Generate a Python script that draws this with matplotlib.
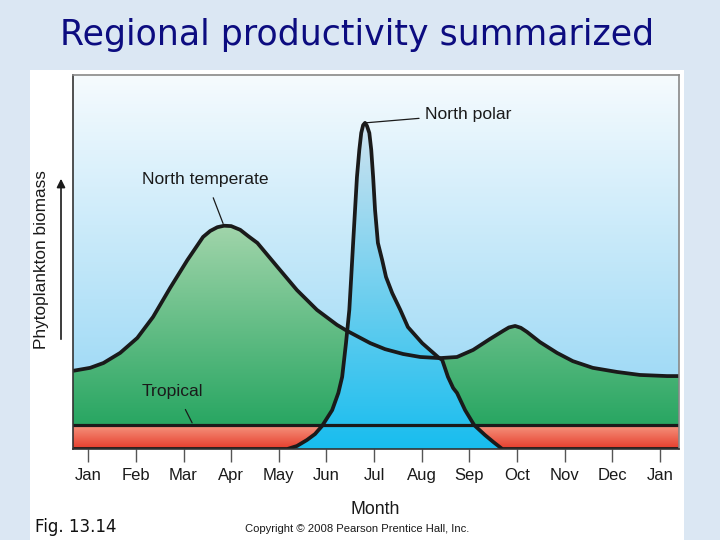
import numpy as np
import matplotlib
matplotlib.use("Agg")
import matplotlib.pyplot as plt
from matplotlib.patches import Rectangle
from matplotlib.path import Path

# ---------------- data (month index: Jan=0 ... next Jan=12; biomass in arbitrary units) -------------
month_labels = ["Jan", "Feb", "Mar", "Apr", "May", "Jun", "Jul",
                "Aug", "Sep", "Oct", "Nov", "Dec", "Jan"]

temperate_month = [-0.32, 0.04, 0.32, 0.67, 1.03, 1.36, 1.72, 2.08, 2.41, 2.56, 2.71,
                   2.85, 3.00, 3.19, 3.36, 3.55, 3.97, 4.38, 4.80, 5.22, 5.43, 5.92,
                   6.23, 6.61, 6.97, 7.38, 7.74, 8.08, 8.43, 8.71, 8.83, 8.96, 9.08,
                   9.21, 9.48, 9.84, 10.17, 10.59, 11.10, 11.58, 12.15, 12.40]
temperate_biomass = [20.9, 21.7, 23.0, 25.7, 29.7, 35.3, 43.1, 50.5, 56.7, 58.3, 59.3,
                     59.7, 59.6, 58.6, 56.9, 55.1, 48.7, 42.5, 37.2, 33.2, 31.6, 28.3,
                     26.7, 25.4, 24.6, 24.3, 24.6, 26.5, 29.4, 31.6, 32.5, 32.9, 32.4,
                     31.3, 28.6, 25.7, 23.5, 21.7, 20.6, 19.8, 19.5, 19.5]

polar_month = [-0.32, 4.18, 4.38, 4.59, 4.76, 4.91, 5.12, 5.25, 5.33, 5.41, 5.48, 5.52,
               5.56, 5.60, 5.64, 5.69, 5.73, 5.77, 5.81, 5.85, 5.90, 5.94, 5.98, 6.02,
               6.08, 6.17, 6.25, 6.38, 6.55, 6.71, 7.01, 7.34, 7.43, 7.55, 7.66, 7.74,
               7.91, 8.10, 8.33, 8.50, 8.69, 12.40]
polar_biomass = [0.0, 0.0, 0.8, 2.4, 4.0, 6.2, 10.4, 15.0, 19.3, 28.3, 37.2, 46.0,
                 55.1, 63.9, 72.7, 80.0, 84.5, 86.6, 87.2, 86.4, 84.5, 80.0, 72.7, 63.9,
                 55.1, 50.5, 46.0, 41.7, 37.2, 32.6, 28.3, 24.6, 23.8, 19.3, 16.3, 15.0,
                 10.4, 6.4, 3.7, 1.9, 0.0, 0.0]

tropical_month = [-0.32, 12.40]
tropical_biomass = [6.4, 6.4]

# ---------------- figure ----------------
fig = plt.figure(figsize=(7.2, 5.4), dpi=100)
fig.patch.set_facecolor("#dbe7f3")
fig.patches.append(Rectangle((30 / 720, 0), 654 / 720, 470 / 540, transform=fig.transFigure,
                             facecolor="white", edgecolor="none", zorder=-5))

fig.text(357 / 720, 1 - 35 / 540, "Regional productivity summarized", ha="center", va="center",
         fontsize=25, color="#0c0c80", family="DejaVu Sans")

ax = fig.add_axes([73 / 720, 1 - 449 / 540, 606 / 720, 374 / 540])
ax.set_zorder(3)
XMIN, XMAX, YMIN, YMAX = -0.32, 12.40, 0, 100


def gradient(y_top, y_bot, c_top, c_bot, clip=None, z=1):
    t = np.linspace(0, 1, 256)[:, None]
    a = np.array(matplotlib.colors.to_rgb(c_top))
    b = np.array(matplotlib.colors.to_rgb(c_bot))
    img = (a * (1 - t) + b * t)[:, None, :]
    im = ax.imshow(img, extent=[XMIN, XMAX, y_bot, y_top], aspect="auto",
                   origin="upper", zorder=z, interpolation="bilinear")
    if clip is not None:
        im.set_clip_path(clip, ax.transData)
    return im


def area_path(xs, ys, base):
    xs = np.asarray(xs, float)
    ys = np.asarray(ys, float)
    verts = np.concatenate([np.column_stack([xs, ys]),
                            [[xs[-1], base], [xs[0], base]]])
    return Path(np.vstack([verts, verts[:1]]), closed=True)


# sky background
gradient(YMAX, YMIN, "#f6fbfe", "#8dd3f4", z=0.5)
# temperate (green)
gradient(60, 6.4, "#a2d5ab", "#28a662", clip=area_path(temperate_month, temperate_biomass, 0), z=1)
# tropical (red band)
gradient(6.4, 0, "#f5957f", "#e63c2b",
         clip=area_path(tropical_month, tropical_biomass, 0), z=1.5)
# north polar (blue)
gradient(87, 0, "#cfe3f0", "#18bdee", clip=area_path(polar_month, polar_biomass, 0), z=2)
ax.set_xlim(XMIN, XMAX)
ax.set_ylim(YMIN, YMAX)

lw = 2.7
ax.plot(temperate_month, temperate_biomass, color="#1a1a1a", lw=lw, zorder=5,
        solid_capstyle="butt", solid_joinstyle="round")
ax.plot(polar_month, polar_biomass, color="#1a1a1a", lw=lw, zorder=5,
        solid_capstyle="butt", solid_joinstyle="round")
ax.plot(tropical_month, tropical_biomass, color="#1a1a1a", lw=2.3, zorder=5)

# labels with leader lines
txtkw = dict(family="Liberation Sans", fontsize=12.6, color="#1a1a1a", zorder=6)
ip = int(np.argmax(polar_biomass))
ax.annotate("North polar", xy=(polar_month[ip], polar_biomass[ip]), xytext=(7.06, 89.5),
            va="center", ha="left",
            arrowprops=dict(arrowstyle="-", lw=0.9, color="#1a1a1a", shrinkA=2, shrinkB=0),
            **txtkw)
ax.annotate("North temperate", xy=(2.83, 60.3), xytext=(1.13, 72.0),
            va="center", ha="left",
            arrowprops=dict(arrowstyle="-", lw=0.9, color="#1a1a1a", shrinkA=6, shrinkB=0,
                            relpos=(0.53, 0.0)),
            **txtkw)
ax.annotate("Tropical", xy=(2.18, tropical_biomass[0] + 0.6), xytext=(1.13, 15.3),
            va="center", ha="left",
            arrowprops=dict(arrowstyle="-", lw=0.9, color="#1a1a1a", shrinkA=6, shrinkB=0,
                            relpos=(0.62, 0.0)),
            **txtkw)

# axes styling
ax.set_yticks([])
ax.set_xticks(range(len(month_labels)))
ax.set_xticklabels(month_labels, family="Liberation Sans", fontsize=12, color="#1a1a1a")
ax.tick_params(axis="x", direction="out", length=9, width=1, color="#555555", pad=5)
for s in ["top", "right"]:
    ax.spines[s].set_color("#888888")
    ax.spines[s].set_linewidth(1.2)
for s in ["left", "bottom"]:
    ax.spines[s].set_color("#333333")
    ax.spines[s].set_linewidth(1.2)
for s in ax.spines.values():
    s.set_zorder(7)

# y label and arrow
fig.text(42 / 720, 1 - 260 / 540, "Phytoplankton biomass", rotation=90, ha="center", va="center",
         family="Liberation Sans", fontsize=12.4, color="#1a1a1a")
fig.patches.append(matplotlib.patches.FancyArrowPatch(
    (61 / 720, 1 - 342 / 540), (61 / 720, 1 - 176 / 540), transform=fig.transFigure,
    arrowstyle="-|>,head_length=5,head_width=2.5", lw=1.2, color="#1a1a1a", mutation_scale=1))

fig.text(375 / 720, 1 - 510 / 540, "Month", ha="center", va="center",
         family="Liberation Sans", fontsize=12.8, color="#1a1a1a")
fig.text(357 / 720, 1 - 529 / 540, "Copyright \u00a9 2008 Pearson Prentice Hall, Inc.",
         ha="center", va="center", family="Liberation Sans", fontsize=8.1, color="#1a1a1a")
fig.text(35 / 720, 1 - 527 / 540, "Fig. 13.14", ha="left", va="center",
         family="DejaVu Sans", fontsize=12, color="#111111")

fig.savefig("out.png", dpi=100, facecolor=fig.get_facecolor())
